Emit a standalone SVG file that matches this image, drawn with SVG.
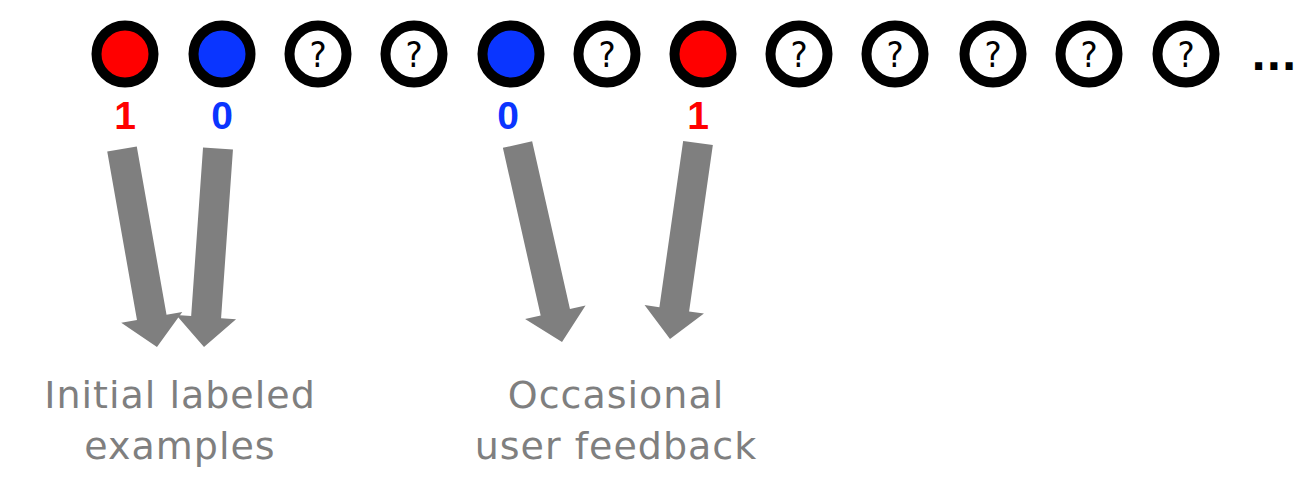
<svg xmlns="http://www.w3.org/2000/svg" width="1299" height="482" viewBox="0 0 1299 482">
<style>
.ring{stroke:#000;stroke-width:10}
.red{fill:#ff0000}
.blue{fill:#0a35ff}
.unk{fill:#fff}
.q{font-family:"DejaVu Sans Condensed","DejaVu Sans",sans-serif;font-size:36px;fill:#000;text-anchor:middle}
.lab{font-family:"Liberation Sans",Arial,sans-serif;font-weight:bold;font-size:39px;text-anchor:middle}
.cap{font-family:"DejaVu Sans",sans-serif;font-size:38px;fill:#7f7f7f;text-anchor:middle;letter-spacing:1px}
.arr{fill:#7f7f7f}
</style>
<g id="n1"><circle class="ring red" cx="125" cy="54" r="28.5"/><text class="lab" x="125" y="129" fill="#ff0000">1</text></g>
<g id="n2"><circle class="ring blue" cx="222" cy="54" r="28.5"/><text class="lab" x="222" y="129" fill="#0a35ff">0</text></g>
<g id="n3"><circle class="ring unk" cx="318" cy="54" r="28.5"/><text class="q" x="318" y="67">?</text></g>
<g id="n4"><circle class="ring unk" cx="414" cy="54" r="28.5"/><text class="q" x="414" y="67">?</text></g>
<g id="n5"><circle class="ring blue" cx="511" cy="54" r="28.5"/><text class="lab" x="508" y="129" fill="#0a35ff">0</text></g>
<g id="n6"><circle class="ring unk" cx="607" cy="54" r="28.5"/><text class="q" x="607" y="67">?</text></g>
<g id="n7"><circle class="ring red" cx="703" cy="54" r="28.5"/><text class="lab" x="698" y="129" fill="#ff0000">1</text></g>
<g id="n8"><circle class="ring unk" cx="799" cy="54" r="28.5"/><text class="q" x="799" y="67">?</text></g>
<g id="n9"><circle class="ring unk" cx="895" cy="54" r="28.5"/><text class="q" x="895" y="67">?</text></g>
<g id="n10"><circle class="ring unk" cx="993" cy="54" r="28.5"/><text class="q" x="993" y="67">?</text></g>
<g id="n11"><circle class="ring unk" cx="1089" cy="54" r="28.5"/><text class="q" x="1089" y="67">?</text></g>
<g id="n12"><circle class="ring unk" cx="1186" cy="54" r="28.5"/><text class="q" x="1186" y="67">?</text></g>
<g id="ellipsis"><text x="1251" y="70" font-family="DejaVu Sans,sans-serif" font-weight="bold" font-size="40" fill="#000">...</text></g>
<g id="connectors">
<polygon class="arr" transform="translate(122,149) rotate(-10.02)" points="-15,0 15,0 15,171 31,171 0,201 -31,171 -15,171"/>
<polygon class="arr" transform="translate(218,148.5) rotate(4.03)" points="-15,0 15,0 15,169 30,169 0,199 -30,169 -15,169"/>
<polygon class="arr" transform="translate(517.5,144.5) rotate(-12.7)" points="-15,0 15,0 15,172 31,172 0,202.5 -31,172 -15,172"/>
<polygon class="arr" transform="translate(698,143) rotate(8.13)" points="-15,0 15,0 15,168 30,168 0,198 -30,168 -15,168"/>
</g>
<g id="label-initial"><text class="cap" x="180" y="408">Initial labeled</text><text class="cap" x="180" y="459">examples</text></g>
<g id="label-feedback"><text class="cap" x="616" y="408">Occasional</text><text class="cap" x="616" y="459">user feedback</text></g>
</svg>
